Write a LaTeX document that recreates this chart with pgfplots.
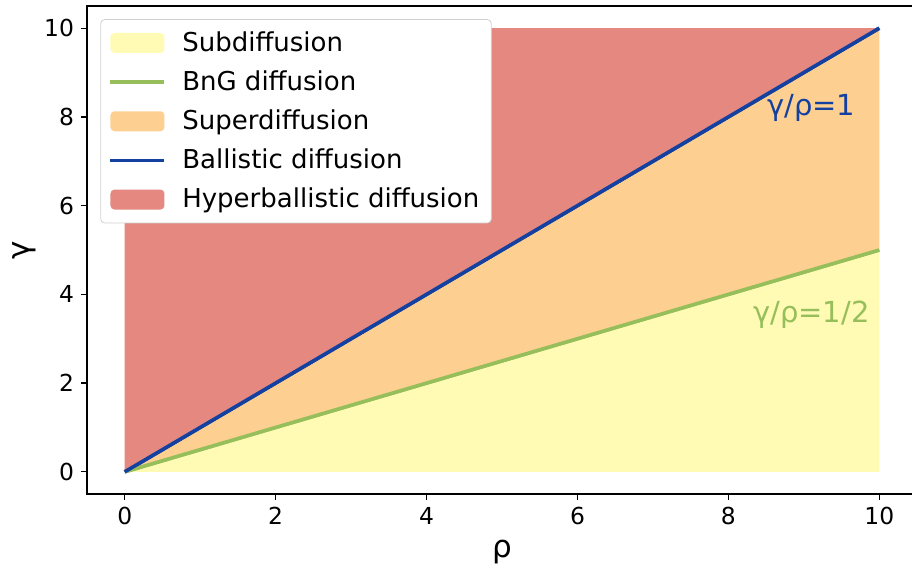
\documentclass[border=0pt]{standalone}
\usepackage{fontspec}
\setmainfont{DejaVu Sans}
\usepackage{pgfplots}
\pgfplotsset{compat=1.18}

\definecolor{subcol}{HTML}{FFFBB5}
\definecolor{supcol}{HTML}{FDD092}
\definecolor{hypcol}{HTML}{E48880}
\definecolor{bngcol}{HTML}{96BE5A}
\definecolor{balcol}{HTML}{1441A0}

\pgfplotsset{
  arealeg/.style={legend image code/.code={\fill[##1] (0pt,-5pt) rectangle (27pt,5pt); \path (33pt,0pt);}},
  lineleg/.style={legend image code/.code={\draw[##1] (0pt,0pt) -- (27pt,0pt); \path (33pt,0pt);}},
}

\begin{document}
\begin{tikzpicture}
\begin{axis}[
  scale only axis,
  width=415pt, height=244pt,
  xmin=-0.5, xmax=10.5, ymin=-0.5, ymax=10.5,
  xtick={0,2,...,10}, ytick={0,2,...,10},
  xtick pos=bottom, ytick pos=left,
  tick align=outside, major tick length=3pt,
  tick style={black, line width=0.6pt},
  axis line style={line width=0.8pt},
  /pgf/number format/assume math mode=true,
  ticklabel style={font=\fontsize{11.7}{13}\selectfont},
  xlabel={ρ}, ylabel={γ},
  label style={font=\fontsize{15.5}{17}\selectfont},
  xlabel style={yshift=-1pt},
  ylabel style={yshift=-3pt},
  legend cell align=left,
  legend style={at={(rel axis cs:0.016,0.973)}, anchor=north west,
    font=\fontsize{13}{15}\selectfont,
    draw=black!18, rounded corners=2pt, fill=white,
    row sep=4.2pt, inner xsep=4pt, inner ysep=4pt},
]
% regions between the two boundary lines
\addplot[arealeg, fill=subcol, draw=none] coordinates {(0,0) (10,0) (10,5)} --cycle;
\addlegendentry{Subdiffusion}
\addplot[lineleg, bngcol, line width=1.8pt] coordinates {(0,0) (10,5)};
\addlegendentry{BnG diffusion}
\addplot[arealeg, fill=supcol, draw=none] coordinates {(0,0) (10,5) (10,10)} --cycle;
\addlegendentry{Superdiffusion}
\addplot[lineleg, balcol, line width=1.8pt] coordinates {(0,0) (10,10)};
\addlegendentry{Ballistic diffusion}
\addplot[arealeg, fill=hypcol, draw=none] coordinates {(0,0) (10,10) (0,10)} --cycle;
\addlegendentry{Hyperballistic diffusion}
% boundary lines again, on top of the filled regions
\addplot[forget plot, bngcol, line width=1.8pt] coordinates {(0,0) (10,5)};
\addplot[forget plot, balcol, line width=1.8pt] coordinates {(0,0) (10,10)};
\node[balcol, font=\fontsize{14.5}{16}\selectfont] at (axis cs:9.1,8.2) {γ/ρ=1};
\node[bngcol, font=\fontsize{14.5}{16}\selectfont] at (axis cs:9.1,3.55) {γ/ρ=1/2};
\end{axis}
\pgfresetboundingbox
\path[use as bounding box] (-43.5pt,-36.5pt) rectangle (412.5pt,247pt);
\end{tikzpicture}
\end{document}
